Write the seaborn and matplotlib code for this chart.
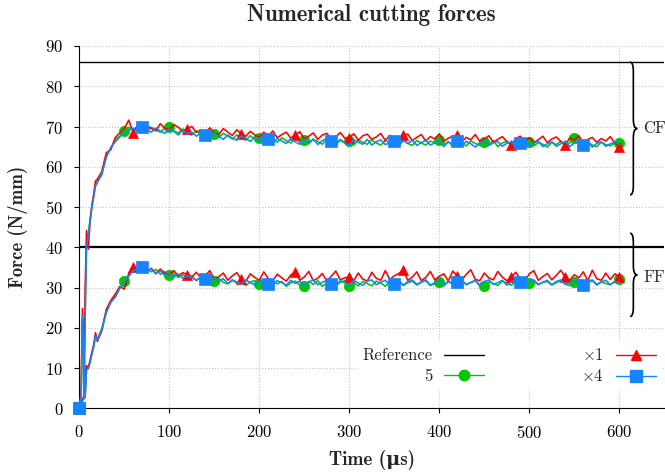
import numpy as np
import matplotlib
matplotlib.use("Agg")
import matplotlib.pyplot as plt
from matplotlib.lines import Line2D
from matplotlib.path import Path
from matplotlib.patches import PathPatch
from matplotlib.ticker import MultipleLocator
import seaborn as sns

# ---------------- data ----------------
t_early = [0, 2, 3.5, 5, 6.5, 8, 10, 12, 14, 16, 18, 20]
t_main = list(range(25, 601, 5))
time_us = t_early + t_main

series_labels = ["5", r"$\times$1", r"$\times$4"]
reference_label = "Reference"
ref_cf = 86
ref_ff = 40
cf_brace = (53.0, 86.0)
ff_brace = (22.8, 43.5)
marker_period = [50, 60, 70]

cf_5 = [
    0, 1.0, 2.0, 2.4, 24.0, 41.0, 43.5, 47.0, 50.2, 52.8, 55.6, 56.4,
    58.0, 62.8, 64.6, 66.8, 67.6, 69.0, 69.8, 69.2, 70.1, 69.3,
    68.8, 69.8, 69.2, 68.6, 69.6, 70.0, 68.9, 68.4, 69.4, 68.3,
    67.9, 68.9, 68.1, 67.5, 68.6, 68.1, 67.3, 68.3, 67.6, 66.9,
    67.9, 67.2, 66.6, 67.7, 66.9, 67.2, 66.3, 67.4, 66.7, 66.1,
    67.2, 66.5, 65.9, 67.0, 66.2, 66.6, 65.7, 66.8, 66.3, 65.6,
    66.9, 66.2, 65.7, 66.8, 65.9, 66.4, 65.4, 66.6, 66.1, 65.6,
    66.7, 65.9, 65.4, 66.5, 66.0, 66.3, 65.5, 66.7, 65.8, 65.3,
    66.5, 65.9, 65.4, 66.4, 66.0, 66.6, 65.5, 66.2, 65.1, 66.3,
    65.7, 65.2, 66.4, 65.8, 65.3, 66.1, 65.5, 66.5, 65.0, 65.9,
    66.3, 65.4, 65.1, 66.1, 65.5, 66.2, 65.2, 66.0, 65.6, 64.9,
    66.1, 65.5, 66.4, 65.2, 66.0, 67.1, 65.7, 65.2, 66.2, 65.4,
    65.0, 66.1, 65.5, 65.2, 65.9, 65.8]

cf_x1 = [
    0, 1.3, 2.3, 3.0, 30.0, 44.2, 39.5, 46.5, 50.5, 53.2, 56.5, 56.9,
    58.8, 63.5, 64.2, 67.3, 68.4, 69.5, 71.6, 68.3, 70.4, 69.2,
    70.3, 69.5, 68.9, 70.7, 69.6, 69.2, 70.5, 69.8, 68.8, 69.4,
    70.0, 68.6, 69.1, 68.3, 69.7, 68.4, 68.0, 69.5, 68.6, 67.8,
    69.2, 68.1, 67.6, 68.8, 67.9, 67.4, 68.6, 67.6, 68.9, 67.2,
    68.0, 68.6, 67.1, 67.8, 68.7, 66.9, 67.6, 68.4, 66.8, 67.9,
    68.3, 66.9, 67.4, 68.5, 67.1, 67.2, 68.2, 66.6, 67.7, 68.1,
    66.8, 67.4, 68.3, 66.5, 67.8, 67.0, 66.6, 67.9, 68.1, 66.5,
    67.3, 68.0, 66.4, 67.5, 66.9, 68.2, 66.3, 67.1, 67.6, 67.9,
    66.2, 67.3, 66.7, 68.0, 66.3, 66.9, 67.7, 66.1, 66.8, 67.5,
    66.3, 65.4, 67.0, 67.6, 66.2, 67.2, 66.0, 66.7, 67.6, 66.0,
    66.9, 67.4, 66.3, 65.4, 67.2, 66.6, 67.7, 66.0, 66.8, 67.3,
    66.1, 67.0, 66.4, 67.5, 65.9, 65.0]

cf_x4 = [
    0, 0.8, 1.8, 2.3, 22.0, 40.2, 43.0, 46.6, 49.8, 52.5, 55.2, 56.0,
    58.2, 62.3, 64.8, 66.2, 67.4, 68.6, 69.1, 69.6, 68.7, 69.8,
    69.2, 68.6, 69.6, 68.9, 68.3, 69.4, 68.8, 67.9, 69.1, 68.2,
    68.6, 67.6, 68.3, 67.9, 67.2, 68.4, 67.5, 66.8, 67.9, 67.1,
    66.6, 67.6, 67.0, 66.3, 67.4, 66.5, 67.2, 66.9, 65.9, 67.0,
    66.4, 65.8, 67.0, 66.2, 65.6, 66.8, 66.0, 66.9, 65.5, 66.5,
    67.0, 66.4, 65.5, 66.6, 65.9, 65.3, 66.7, 66.1, 65.6, 66.8,
    65.4, 66.2, 66.7, 65.5, 66.0, 66.4, 65.2, 66.5, 65.8, 66.6,
    65.3, 66.0, 66.6, 65.4, 65.9, 66.5, 65.0, 66.2, 65.6, 66.5,
    65.2, 66.3, 65.7, 64.9, 66.0, 66.4, 65.3, 65.9, 66.3, 65.1,
    65.8, 66.2, 65.0, 65.8, 66.3, 65.2, 65.9, 66.4, 65.0, 65.7,
    66.2, 65.1, 65.7, 66.3, 65.0, 65.9, 66.1, 65.3, 66.0, 64.9,
    65.8, 66.2, 65.1, 65.7, 66.1, 65.6]

ff_5 = [
    0, 3.0, 22.0, 12.0, 3.0, 9.8, 10.0, 11.6, 13.6, 15.4, 18.2, 17.2,
    19.8, 24.0, 26.5, 27.8, 29.8, 31.6, 33.0, 34.6, 34.9, 35.0,
    34.6, 33.9, 34.5, 33.3, 33.9, 33.1, 33.4, 32.5, 33.2, 32.2,
    32.9, 31.7, 32.5, 31.9, 31.2, 31.6, 32.3, 31.3, 30.9, 31.8,
    31.1, 31.6, 30.5, 31.4, 31.7, 30.8, 31.2, 30.4, 31.6, 30.9,
    31.5, 30.3, 31.2, 31.6, 30.6, 30.4, 31.5, 30.8, 31.7, 30.3,
    31.1, 31.5, 30.5, 31.3, 31.7, 30.5, 31.2, 30.4, 31.5, 31.0,
    30.4, 31.6, 31.1, 30.3, 31.4, 30.8, 31.6, 30.5, 31.2, 31.6,
    30.6, 31.3, 31.7, 30.5, 31.0, 31.4, 30.4, 31.5, 31.0, 30.6,
    31.6, 30.8, 31.2, 31.7, 30.4, 30.5, 31.4, 31.0, 30.5, 31.6,
    31.1, 30.6, 31.5, 31.0, 30.4, 31.2, 31.6, 30.7, 31.3, 31.5,
    30.6, 31.2, 31.7, 30.8, 30.5, 31.3, 31.6, 30.7, 31.2, 31.7,
    30.6, 31.4, 31.0, 30.7, 31.5, 32.0]

ff_x1 = [
    0, 4.0, 24.8, 17.6, 4.0, 10.6, 10.2, 12.0, 14.0, 15.8, 18.8, 16.6,
    19.2, 24.6, 26.8, 28.4, 30.3, 29.6, 33.5, 35.2, 34.5, 35.4,
    34.0, 34.8, 33.4, 34.6, 33.6, 33.2, 34.2, 32.9, 33.7, 33.2,
    32.6, 33.8, 32.4, 33.0, 34.2, 32.1, 32.7, 33.6, 31.8, 32.9,
    33.7, 32.0, 31.6, 33.4, 32.5, 31.8, 33.9, 32.2, 31.7, 33.3,
    32.4, 31.6, 33.1, 33.9, 31.8, 32.6, 34.0, 31.7, 32.3, 33.5,
    31.6, 32.8, 34.1, 31.9, 32.4, 32.7, 31.7, 33.6, 32.1, 31.6,
    33.8, 32.3, 31.8, 34.2, 32.0, 32.9, 33.5, 34.3, 31.8, 32.6,
    33.9, 31.7, 32.5, 34.0, 31.9, 32.8, 33.4, 31.6, 34.1, 32.9,
    31.8, 33.3, 34.4, 32.0, 31.7, 33.6, 32.4, 31.9, 34.0, 32.6,
    31.7, 32.6, 33.8, 32.1, 31.6, 33.4, 34.2, 31.8, 32.7, 33.5,
    31.9, 33.0, 34.3, 32.5, 31.8, 33.2, 32.4, 33.9, 31.7, 34.3,
    32.2, 31.8, 33.6, 32.0, 33.4, 32.7]

ff_x4 = [
    0, 3.0, 23.0, 13.0, 2.6, 9.6, 9.8, 11.4, 13.4, 15.2, 18.0, 17.0,
    19.5, 23.8, 26.3, 27.6, 29.9, 31.2, 32.8, 34.2, 34.6, 35.0,
    34.0, 34.6, 33.5, 34.1, 33.0, 33.6, 32.6, 33.4, 32.3, 32.9,
    32.5, 31.8, 32.6, 32.1, 31.6, 32.4, 31.5, 32.2, 31.0, 31.9,
    31.4, 30.8, 31.9, 31.2, 30.7, 31.6, 31.8, 31.0, 30.6, 31.7,
    31.2, 30.6, 31.8, 31.0, 31.6, 30.5, 31.4, 31.9, 30.7, 31.3,
    31.8, 31.0, 30.5, 31.7, 31.2, 30.6, 31.8, 31.1, 30.5, 31.6,
    31.9, 30.7, 31.3, 31.8, 30.6, 31.0, 31.7, 30.6, 31.5, 31.9,
    30.8, 31.4, 31.9, 30.6, 31.2, 31.8, 30.7, 31.5, 30.9, 31.4,
    31.9, 30.7, 31.3, 31.8, 30.6, 31.5, 31.9, 30.8, 31.2, 31.8,
    30.6, 31.4, 31.9, 31.4, 30.7, 31.6, 31.9, 30.8, 31.3, 31.8,
    30.7, 31.5, 31.9, 30.8, 31.2, 31.7, 31.4, 30.6, 31.5, 31.9,
    30.8, 31.4, 31.8, 30.7, 31.5, 31.3]

for arr in (cf_5, cf_x1, cf_x4, ff_5, ff_x1, ff_x4):
    assert len(arr) == len(time_us), len(arr)

# ---------------- style ----------------
sns.set_style("ticks")
plt.rcParams["font.family"] = ["cmr10", "DejaVu Serif"]
plt.rcParams["mathtext.fontset"] = "cm"
plt.rcParams["axes.formatter.use_mathtext"] = True

colors = ["#00c800", "#ff0000", "#1684ff"]
markers = ["o", "^", "s"]
msizes = [7.5, 7.5, 8.3]

fig = plt.figure(figsize=(6.65, 4.72), dpi=100)
ax = fig.add_axes([79.3 / 665, 63.7 / 472, 585 / 665, 362.3 / 472])

ax.set_xlim(0, 650)
ax.set_ylim(0, 90)
ax.xaxis.set_major_locator(MultipleLocator(100))
ax.yaxis.set_major_locator(MultipleLocator(10))
ax.grid(True, linestyle=":", color="#c4c4c4", linewidth=0.8)
ax.set_axisbelow(True)
for s in ("top", "right"):
    ax.spines[s].set_visible(False)
for s in ("left", "bottom"):
    ax.spines[s].set_color("black")
    ax.spines[s].set_linewidth(0.8)
ax.tick_params(direction="out", length=3.5, width=0.8, pad=8, labelsize=12,
               colors="black")

ax.axhline(ref_cf, color="black", lw=1.0, zorder=2)
ax.axhline(ref_ff, color="black", lw=1.6, zorder=2)

t_arr = np.array(time_us, dtype=float)
for cf, ff, c, m, ms, per in zip((cf_5, cf_x1, cf_x4), (ff_5, ff_x1, ff_x4),
                                 colors, markers, msizes, marker_period):
    idx = [i for i, tt in enumerate(t_arr) if tt % per == 0]
    for vals in (cf, ff):
        sns.lineplot(x=t_arr, y=vals, ax=ax, color=c, lw=1.15, marker=m,
                     markersize=ms, markevery=idx, markeredgecolor=c,
                     markeredgewidth=0.5, errorbar=None, clip_on=False,
                     zorder=3)


def draw_brace(ax, y_lo, y_hi, x_end=612.0, x_stem=615.6, x_tip=620.0, r=2.3):
    ym = (y_lo + y_hi) / 2
    verts = [(x_end, y_hi), (x_stem, y_hi), (x_stem, y_hi - r),
             (x_stem, ym + r), (x_stem, ym), (x_tip, ym),
             (x_stem, ym), (x_stem, ym - r),
             (x_stem, y_lo + r), (x_stem, y_lo), (x_end, y_lo)]
    codes = [Path.MOVETO, Path.CURVE3, Path.CURVE3, Path.LINETO,
             Path.CURVE3, Path.CURVE3, Path.CURVE3, Path.CURVE3,
             Path.LINETO, Path.CURVE3, Path.CURVE3]
    patch = PathPatch(Path(verts, codes), fill=False, lw=1.2, color="black",
                      clip_on=False, zorder=4)
    ax.add_patch(patch)
    return ym


ym_cf = draw_brace(ax, *cf_brace)
ym_ff = draw_brace(ax, *ff_brace)
ax.text(627, ym_cf, "CF", fontsize=12, va="center", ha="left", clip_on=False)
ax.text(627, ym_ff - 0.7, "FF", fontsize=12, va="center", ha="left", clip_on=False)

handles = [Line2D([], [], color="black", lw=1.0)]
for c, m, ms in zip(colors, markers, msizes):
    handles.append(Line2D([], [], color=c, lw=1.0, marker=m, markersize=ms,
                          markeredgecolor=c))
labels = [reference_label] + series_labels
leg = ax.legend(handles, labels, ncol=2, markerfirst=False, loc="lower right",
                bbox_to_anchor=(0.995, 0.05), borderaxespad=0, borderpad=0.35,
                frameon=True, framealpha=1, facecolor="white", edgecolor="none",
                fancybox=False, fontsize=12, handlelength=2.4,
                handletextpad=0.7, columnspacing=5.8, labelspacing=0.3)
leg.set_zorder(5)

bold_family = ["cmb10", "DejaVu Serif"]
ax.set_xlabel("Time (\u03bcs)", fontsize=13.8, family=bold_family,
              fontweight="bold", va="center")
ax.xaxis.set_label_coords(0.5, (408.3 - 460) / 362.3)
ax.set_ylabel("Force (N/mm)", fontsize=13.5, family=bold_family,
              fontweight="bold", va="center")
ax.yaxis.set_label_coords((18.5 - 79.3) / 585, 0.5)

fig.text(371.8 / 665, 1 - 15 / 472, "Numerical cutting forces", fontsize=16.5,
         family=bold_family, fontweight="bold", ha="center", va="center")

fig.savefig("out.png", dpi=100)
